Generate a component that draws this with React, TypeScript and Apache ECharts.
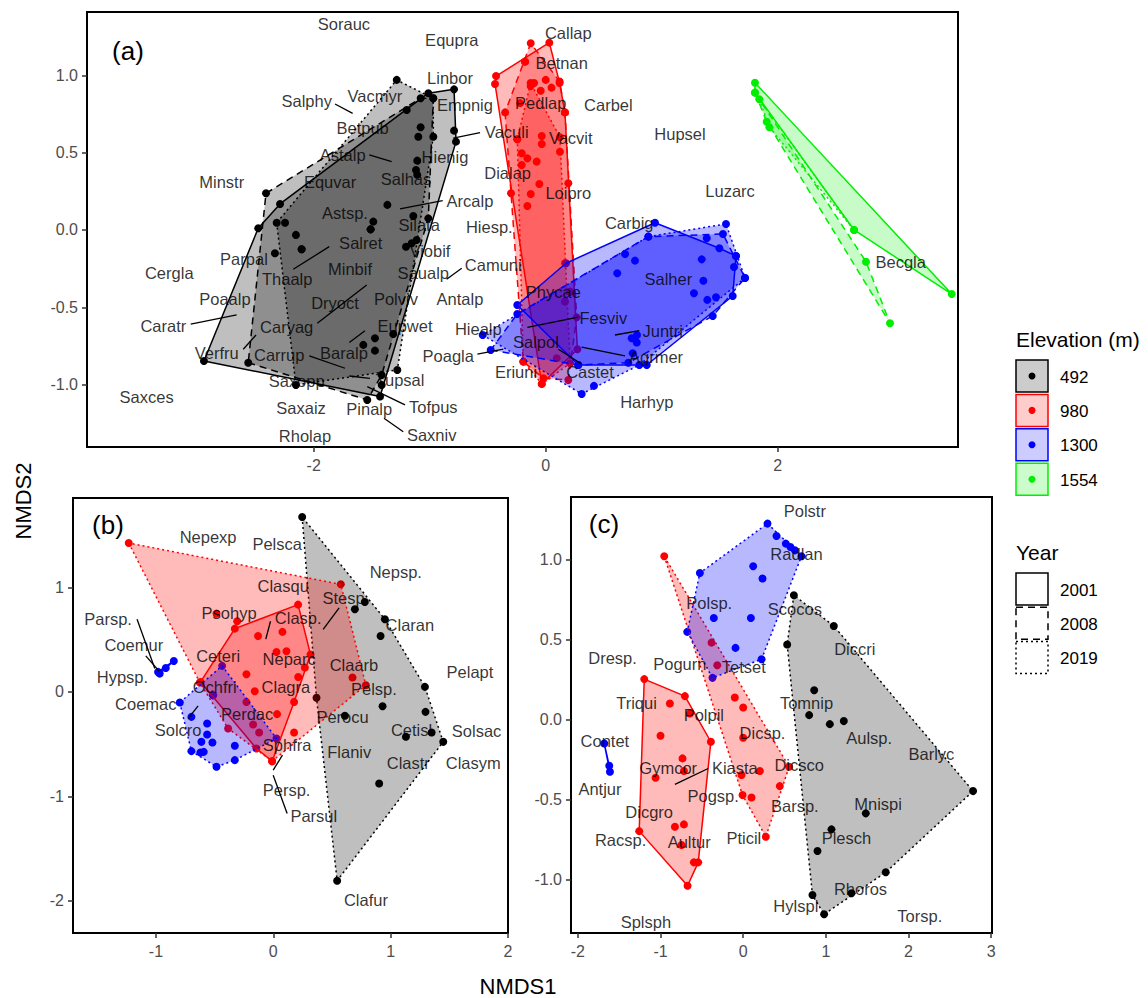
import React, { useEffect, useRef } from "react";
import * as echarts from "echarts";

const FONT = '"Liberation Sans", Arial, Helvetica, sans-serif';

// ---------- Panel (a) points: [NMDS1, NMDS2] ----------
const a492_2001 = [[-2.946,-0.847],[-2.478,0.011],[-2.29,0.168],[-1.012,0.884],[-0.79,0.909],[-0.79,0.642],[-0.773,0.571],[-1.428,-1.077],[-1.365,0.162],[-1.107,0.448],[-1.141,0.09],[-1.472,-0.7],[-1.414,-1.002],[-2.104,-0.125],[-1.572,-0.743]];
const a492_2008 = [[-2.411,0.237],[-1.198,0.776],[-1.078,0.851],[-0.969,0.851],[-1.012,0.075],[-1.314,-0.672],[-1.414,-0.937],[-1.538,-1.099],[-2.564,-0.858],[-2.247,0.047],[-2.153,-0.032],[-1.509,0.004],[-1.155,-0.086],[-1.118,0.388],[-2.334,-0.151]];
const a492_2019 = [[-1.284,0.97],[-0.969,0.851],[-0.969,0.603],[-1.279,-0.905],[-2.153,-1.002],[-2.319,0.047],[-1.486,0.054],[-1.204,-0.108],[-1.472,-0.78],[-1.107,0.356],[-1.098,0.603],[-1.078,0.664],[-1.112,-0.065],[-2.104,-0.125],[-1.509,0.004]];
const a980_2001 = [[-0.428,0.995],[-0.178,1.088],[0.031,1.211],[0.12,0.95],[0.166,0.76],[0.195,0.302],[0.273,-0.771],[-0.034,-0.995],[-0.437,0.944],[-0.13,0.93],[-0.043,0.9],[-0.22,0.82],[-0.034,0.607],[-0.207,0.496],[-0.078,0.442],[-0.055,0.297],[0.095,-0.829],[0.21,-0.399]];
const a980_2008 = [[-0.129,1.207],[-0.178,1.088],[0.12,0.96],[0.166,0.76],[0.21,-0.399],[0.267,-0.565],[0.195,-0.97],[-0.02,-0.959],[-0.193,-0.851],[-0.35,0.76],[-0.299,0.237],[-0.1,0.95],[0.0,0.97],[0.05,0.92],[-0.245,0.586],[-0.158,0.463],[-0.129,0.233],[0.123,0.506]];
const a980_2019 = [[-0.13,0.95],[0.123,0.599],[0.166,-0.215],[0.21,-0.862],[-0.034,-0.995],[-0.193,-0.851],[-0.245,0.586],[-0.207,0.42],[-0.158,0.155],[-0.034,0.556],[0.166,-0.463]];
const a1300_2001 = [[-0.245,-0.485],[0.175,-0.215],[0.942,0.047],[1.497,-0.118],[1.64,-0.168],[1.612,-0.427],[0.871,-0.873],[0.281,-0.873],[1.345,-0.19],[0.684,-0.155],[0.741,-0.7],[1.623,-0.239]];
const a1300_2008 = [[-0.474,-0.776],[-0.245,-0.543],[0.885,-0.043],[1.528,-0.026],[1.718,-0.31],[1.44,-0.556],[0.712,-0.858],[0.281,-0.873],[1.388,-0.054],[1.359,-0.328],[0.617,-0.28],[0.77,-0.198]];
const a1300_2019 = [[-0.543,-0.679],[0.885,-0.043],[1.554,0.039],[1.64,-0.168],[1.718,-0.31],[1.393,-0.452],[0.31,-1.06],[0.416,-1.008],[1.278,-0.409],[1.468,-0.435],[0.787,-0.679],[0.785,-0.728],[0.75,-0.797],[0.807,-0.873]];
const a1554_2001 = [[1.804,0.952],[3.5,-0.414],[2.658,0.0],[1.804,0.888]];
const a1554_2008 = [[1.804,0.888],[2.761,-0.205],[2.968,-0.603],[1.905,0.7]];
const a1554_2019 = [[1.841,0.845],[1.928,0.664],[2.658,0.0]];

// ---------- Panel (b) ----------
const b492_2019 = [[0.246,1.673],[0.78,0.86],[0.695,0.79],[0.951,0.695],[0.914,0.535],[1.292,0.048],[0.931,-0.137],[1.297,-0.191],[1.349,-0.389],[1.13,-0.43],[1.448,-0.478],[0.902,-0.876],[0.544,-1.807],[0.368,-0.057],[0.61,-0.229]];
const b980_2001 = [[-0.62,0.095],[-0.328,0.605],[0.211,0.835],[0.317,0.357],[0.177,-0.096],[-0.01,-0.663],[-0.144,-0.542],[0.078,0.574],[0.112,0.389],[0.269,0.233],[0.212,0.143],[-0.229,0.169],[-0.158,0.006],[0.032,-0.213],[-0.229,-0.096],[-0.172,-0.312],[-0.121,-0.389]];
const b980_2019 = [[-1.232,1.424],[0.575,1.029],[0.789,0.064],[0.177,-0.389],[-0.01,-0.663],[-0.626,0.089],[0.675,0.137],[0.027,0.382],[-0.13,0.535],[-0.308,0.676],[-0.484,0.749],[-0.385,-0.351],[-0.513,-0.032]];
const b1300_2001 = [[-0.982,0.191],[-0.968,0.175],[-0.916,0.229],[-0.848,0.296]];
const b1300_2019 = [[-0.436,0.249],[0.027,-0.446],[-0.328,-0.653],[-0.484,-0.717],[-0.698,-0.567],[-0.797,-0.102],[-0.698,-0.239],[-0.564,-0.303],[-0.564,-0.408],[-0.613,-0.478],[-0.519,-0.484],[-0.593,-0.574],[-0.621,-0.58],[-0.328,-0.516],[-0.513,-0.032]];

// ---------- Panel (c) ----------
const c492_2019 = [[0.613,0.776],[1.096,0.584],[0.532,0.468],[0.859,0.183],[0.798,0.027],[1.048,-0.029],[1.217,-0.01],[2.781,-0.447],[1.483,-0.586],[1.068,-0.686],[0.899,-0.821],[1.725,-0.954],[1.31,-1.085],[0.838,-1.096],[0.979,-1.216]];
const c980_2001 = [[-1.197,0.252],[-0.705,0.146],[-0.887,0.1],[-0.645,0.037],[-0.391,-0.139],[-1.0,-0.102],[-0.734,-0.243],[-0.717,-0.322],[-1.06,-0.364],[-1.258,-0.697],[-0.826,-0.67],[-0.717,-0.655],[-0.746,-0.784],[-0.597,-0.892],[-0.544,-0.892],[-0.673,-1.038]];
const c980_2019 = [[-0.955,1.019],[-0.383,0.48],[-0.314,0.339],[-0.101,0.137],[0.0,0.075],[0.0,-0.114],[0.202,-0.322],[-0.02,-0.347],[0.556,-0.295],[0.443,-0.416],[-0.008,-0.472],[0.101,-0.487],[0.274,-0.732]];
const c1300_2001 = [[-1.681,-0.15],[-1.62,-0.289],[-1.612,-0.326]];
const c1300_2019 = [[0.294,1.223],[0.403,1.146],[0.516,1.098],[0.572,1.077],[0.625,1.056],[0.705,1.019],[-0.524,0.915],[0.121,0.957],[0.234,0.88],[-0.355,0.634],[0.093,0.634],[-0.677,0.547],[-0.093,0.447],[0.222,0.376],[-0.371,0.26]];

// ---------- Species labels [name, x, y] ----------
const labelsA = [["Sorauc",-1.739,1.332],["Equpra",-0.81,1.228],["Linbor",-0.825,0.98],["Salphy",-2.06,0.836],["Vacmyr",-1.472,0.866],["Empnig",-0.696,0.808],["Betpub",-1.578,0.657],["Vaculi",-0.336,0.635],["Astalp",-1.75,0.485],["Hienig",-0.868,0.474],["Minstr",-2.793,0.312],["Equvar",-1.859,0.308],["Salhas",-1.204,0.328],["Arcalp",-0.653,0.189],["Dialap",-0.328,0.366],["Astsp.",-1.73,0.108],["Silata",-1.09,0.032],["Hiesp.",-0.486,0.018],["Salret",-1.595,-0.082],["Viobif",-0.998,-0.134],["Parpal",-2.601,-0.189],["Cergla",-3.245,-0.28],["Thaalp",-2.228,-0.319],["Minbif",-1.687,-0.254],["Saualp",-1.055,-0.276],["Camuni",-0.452,-0.226],["Poaalp",-2.765,-0.448],["Dryoct",-1.816,-0.47],["Polviv",-1.291,-0.448],["Antalp",-0.739,-0.448],["Caratr",-3.296,-0.621],["Caryag",-2.233,-0.625],["Eupwet",-1.213,-0.621],["Hiealp",-0.581,-0.642],["Verfru",-2.836,-0.793],["Carrup",-2.297,-0.808],["Baralp",-1.739,-0.797],["Poagla",-0.84,-0.815],["Saxopp",-2.147,-0.974],["Tupsal",-1.256,-0.97],["Eriuni",-0.256,-0.916],["Saxces",-3.44,-1.077],["Saxaiz",-2.109,-1.153],["Pinalp",-1.521,-1.157],["Tofpus",-0.969,-1.142],["Rholap",-2.075,-1.332],["Saxniv",-0.983,-1.325],["Callap",0.195,1.275],["Betnan",0.138,1.082],["Pedlap",-0.043,0.823],["Carbel",0.54,0.808],["Vacvit",0.216,0.593],["Hupsel",1.158,0.621],["Loipro",0.195,0.241],["Luzarc",1.589,0.254],["Carbig",0.72,0.047],["Salher",1.057,-0.319],["Becgla",3.06,-0.209],["Phycae",0.066,-0.399],["Fesviv",0.497,-0.571],["Juntri",1.008,-0.651],["Salpol",-0.084,-0.722],["Agrmer",0.951,-0.823],["Castet",0.382,-0.92],["Harhyp",0.871,-1.114]];
const labelsB = [["Nepexp",-0.556,1.482],["Pelsca",0.033,1.418],["Nepsp.",1.044,1.147],["Clasqu",0.084,1.013],["Stesp.",0.618,0.899],["Parsp.",-1.408,0.701],["Psohyp",-0.377,0.758],["Clasp.",0.212,0.707],["Claran",1.164,0.637],["Coemur",-1.189,0.446],["Ceteri",-0.47,0.344],["Neparc",0.135,0.319],["Claarb",0.687,0.255],["Pelapt",1.676,0.191],["Hypsp.",-1.286,0.143],["Ochfri",-0.499,0.048],["Clagra",0.107,0.048],["Pelsp.",0.857,0.032],["Coemac",-1.087,-0.112],["Perdac",-0.223,-0.207],["Perocu",0.59,-0.239],["Solcro",-0.811,-0.366],["Cetisl",1.178,-0.366],["Solsac",1.732,-0.376],["Sphfra",0.118,-0.51],["Flaniv",0.647,-0.58],["Clastr",1.15,-0.676],["Clasym",1.704,-0.676],["Persp.",0.113,-0.94],["Parsul",0.345,-1.185],["Clafur",0.789,-1.992]];
const labelsC = [["Polstr",0.746,1.3],["Radlan",0.645,1.036],["Polsp.",-0.411,0.73],["Scocos",0.625,0.688],["Diccri",1.35,0.439],["Dresp.",-1.58,0.385],["Pogurn",-0.766,0.349],["Tetset",0.008,0.329],["Tomnip",0.766,0.106],["Triqui",-1.29,0.1],["Polpil",-0.476,0.031],["Aulsp.",1.524,-0.114],["Contet",-1.673,-0.135],["Dicsp.",0.234,-0.087],["Barlyc",2.277,-0.218],["Dicsco",0.677,-0.285],["Gymcor",-0.907,-0.302],["Kiasta",-0.101,-0.306],["Antjur",-1.733,-0.435],["Pogsp.",-0.363,-0.476],["Mnispi",1.632,-0.53],["Barsp.",0.625,-0.539],["Dicgro",-1.137,-0.576],["Plesch",1.249,-0.742],["Racsp.",-1.483,-0.753],["Aultur",-0.653,-0.767],["Pticil",0.008,-0.742],["Rhoros",1.419,-1.058],["Hylspl",0.637,-1.162],["Torsp.",2.136,-1.225],["Splsph",-1.177,-1.262]];

// ---------- Leader segments [x1, y1, x2, y2] ----------
const leadersA = [[-1.816,0.814,-1.664,0.754],[-1.521,0.485,-1.328,0.442],[-0.797,0.593,-0.566,0.629],[-1.256,0.136,-0.888,0.189],[-2.176,-0.254,-1.866,-0.108],[-0.854,-0.319,-0.724,-0.248],[-1.969,-0.603,-1.543,-0.356],[-3.06,-0.608,-2.664,-0.549],[-1.693,-0.728,-1.558,-0.651],[-2.607,-0.771,-2.497,-0.679],[-2.038,-0.814,-1.73,-0.894],[-1.693,-0.944,-1.515,-0.959],[-0.589,-0.802,-0.365,-0.771],[-1.538,-1.013,-1.213,-1.131],[-1.394,-1.217,-1.228,-1.304],[-0.158,-0.629,0.281,-0.564],[0.597,-0.679,0.807,-0.651],[0.31,-0.758,0.684,-0.814],[0.109,-0.771,0.31,-0.866]];
const leadersB = [[-1.161,0.695,-1.01,0.223],[-1.087,0.344,-0.973,0.198],[-0.064,0.504,-0.024,0.676],[0.425,0.599,0.561,0.803],[-0.726,-0.255,-0.641,-0.134],[-0.001,-0.749,0.078,-0.605],[-0.001,-0.797,0.118,-1.163]];
const leadersC = [[-0.826,-0.405,-0.423,-0.306]];

// ---------- Legend / axis ticks ----------
const elevations = ["492", "980", "1300", "1554"];
const years = ["2001", "2008", "2019"];
const ticksAx = [-2, 0, 2];
const ticksAy = [-1, -0.5, 0, 0.5, 1];
const ticksBx = [-1, 0, 1, 2];
const ticksBy = [-2, -1, 0, 1];
const ticksCx = [-2, -1, 0, 1, 2, 3];
const ticksCy = [-1, -0.5, 0, 0.5, 1];

const elevColor: Record<string, string> = { "492": "#000000", "980": "#ff0000", "1300": "#0000ff", "1554": "#00ee00" };
const elevFill: Record<string, string> = { "492": "rgba(0,0,0,0.25)", "980": "rgba(255,0,0,0.27)", "1300": "rgba(0,0,255,0.28)", "1554": "rgba(0,238,0,0.22)" };
const legendFill: Record<string, string> = { "492": "rgba(0,0,0,0.2)", "980": "rgba(255,0,0,0.2)", "1300": "rgba(0,0,255,0.2)", "1554": "rgba(0,238,0,0.2)" };
const yearDash: Record<string, any> = { "2001": null, "2008": [7, 5], "2019": [2, 3] };

const panels = [
  { groups: [["492","2001",a492_2001],["492","2008",a492_2008],["492","2019",a492_2019],["980","2001",a980_2001],["980","2008",a980_2008],["980","2019",a980_2019],["1300","2001",a1300_2001],["1300","2008",a1300_2008],["1300","2019",a1300_2019],["1554","2001",a1554_2001],["1554","2008",a1554_2008],["1554","2019",a1554_2019]], labels: labelsA, leaders: leadersA },
  { groups: [["492","2019",b492_2019],["980","2001",b980_2001],["980","2019",b980_2019],["1300","2001",b1300_2001],["1300","2019",b1300_2019]], labels: labelsB, leaders: leadersB },
  { groups: [["492","2019",c492_2019],["980","2001",c980_2001],["980","2019",c980_2019],["1300","2001",c1300_2001],["1300","2019",c1300_2019]], labels: labelsC, leaders: leadersC },
];

function convexHull(pts: number[][]) {
  const p = pts.slice().sort((a, b) => a[0] - b[0] || a[1] - b[1]);
  if (p.length < 3) return p;
  const cross = (o: number[], a: number[], b: number[]) => (a[0] - o[0]) * (b[1] - o[1]) - (a[1] - o[1]) * (b[0] - o[0]);
  const lower: number[][] = [];
  for (const q of p) { while (lower.length >= 2 && cross(lower[lower.length - 2], lower[lower.length - 1], q) <= 0) lower.pop(); lower.push(q); }
  const upper: number[][] = [];
  for (let i = p.length - 1; i >= 0; i--) { const q = p[i]; while (upper.length >= 2 && cross(upper[upper.length - 2], upper[upper.length - 1], q) <= 0) upper.pop(); upper.push(q); }
  upper.pop(); lower.pop();
  return lower.concat(upper);
}

function buildOption() {
  const axisText = { fontSize: 16, color: "#4d4d4d", fontFamily: FONT };
  const tick = { show: true, length: 5, lineStyle: { color: "#333", width: 1.5 } };
  const mkX = (gi: number, min: number, max: number, vals: number[]) => ({
    type: "value", gridIndex: gi, min, max, position: "bottom", splitLine: { show: false }, axisLine: { show: false, onZero: false },
    axisTick: { ...tick, customValues: vals }, axisLabel: { ...axisText, margin: 10, customValues: vals, formatter: (v: number) => String(v) },
  });
  const mkY = (gi: number, min: number, max: number, vals: number[], dec: number) => ({
    type: "value", gridIndex: gi, min, max, position: "left", splitLine: { show: false }, axisLine: { show: false, onZero: false },
    axisTick: { ...tick, customValues: vals }, axisLabel: { ...axisText, margin: 9, customValues: vals, formatter: (v: number) => v.toFixed(dec) },
  });

  const series: any[] = [];
  panels.forEach((panel, pi) => {
    // points (beneath hulls)
    panel.groups.forEach((g: any) => {
      series.push({ type: "scatter", xAxisIndex: pi, yAxisIndex: pi, data: g[2], symbolSize: 8, silent: true, z: 2,
        itemStyle: { color: elevColor[g[0]], opacity: 1 } });
    });
    // hull polygons
    panel.groups.forEach((g: any) => {
      const h = convexHull(g[2]);
      series.push({ type: "custom", xAxisIndex: pi, yAxisIndex: pi, data: [h[0]], silent: true, z: 3, clip: false,
        renderItem: (params: any, api: any) => {
          if (params.dataIndex !== 0) return null;
          const pts = h.map((p) => api.coord(p));
          return { type: "polygon", shape: { points: pts },
            style: { fill: elevFill[g[0]], stroke: elevColor[g[0]], lineWidth: 1.5, lineDash: yearDash[g[1]], lineJoin: "round" } };
        } });
    });
    // leader lines
    series.push({ type: "custom", xAxisIndex: pi, yAxisIndex: pi, data: panel.leaders, silent: true, z: 4,
      encode: { x: [0, 2], y: [1, 3] },
      renderItem: (params: any, api: any) => {
        const a = api.coord([api.value(0), api.value(1)]);
        const b = api.coord([api.value(2), api.value(3)]);
        return { type: "line", shape: { x1: a[0], y1: a[1], x2: b[0], y2: b[1] }, style: { stroke: "#000", lineWidth: 1.3 } };
      } });
    // species labels
    series.push({ type: "scatter", xAxisIndex: pi, yAxisIndex: pi, silent: true, z: 5,
      data: panel.labels.map((l: any) => [l[1], l[2], l[0]]), symbolSize: 1, itemStyle: { color: "rgba(0,0,0,0)" },
      label: { show: true, position: "inside", formatter: (p: any) => p.value[2], color: "#000", fontSize: 16.5, fontFamily: FONT } });
  });

  const graphic: any[] = [];
  const panelTag = (t: string, x: number, y: number) => ({ type: "text", x, y, style: { text: t, fontSize: 26, fontFamily: FONT, fill: "#000", align: "center", verticalAlign: "middle" } });
  graphic.push(panelTag("(a)", 128, 51));
  graphic.push(panelTag("(b)", 108, 525));
  graphic.push(panelTag("(c)", 604, 524));
  graphic.push({ type: "text", x: 518, y: 986, style: { text: "NMDS1", fontSize: 22, fontFamily: FONT, fill: "#000", align: "center", verticalAlign: "middle" } });
  graphic.push({ type: "text", x: 23, y: 501, rotation: Math.PI / 2, style: { text: "NMDS2", fontSize: 22, fontFamily: FONT, fill: "#000", align: "center", verticalAlign: "middle" } });
  // Elevation legend
  graphic.push({ type: "text", x: 1016, y: 339, style: { text: "Elevation (m)", fontSize: 21, fontFamily: FONT, fill: "#000", verticalAlign: "middle" } });
  elevations.forEach((e, i) => {
    const y0 = 360 + i * 34.4;
    graphic.push({ type: "rect", shape: { x: 1016, y: y0, width: 32, height: 32 }, style: { fill: legendFill[e], stroke: elevColor[e], lineWidth: 1.5 } });
    graphic.push({ type: "circle", shape: { cx: 1032, cy: y0 + 16, r: 3.5 }, style: { fill: elevColor[e] } });
    graphic.push({ type: "text", x: 1060, y: y0 + 17, style: { text: e, fontSize: 17, fontFamily: FONT, fill: "#000", verticalAlign: "middle" } });
  });
  graphic.push({ type: "text", x: 1016, y: 552, style: { text: "Year", fontSize: 21, fontFamily: FONT, fill: "#000", verticalAlign: "middle" } });
  years.forEach((yr, i) => {
    const y0 = 573 + i * 34.2;
    graphic.push({ type: "rect", shape: { x: 1016, y: y0, width: 32, height: 32 }, style: { fill: "#fff", stroke: "#000", lineWidth: 1.5, lineDash: yearDash[yr] } });
    graphic.push({ type: "text", x: 1060, y: y0 + 17, style: { text: yr, fontSize: 17, fontFamily: FONT, fill: "#000", verticalAlign: "middle" } });
  });

  return {
    animation: false,
    backgroundColor: "#ffffff",
    grid: [
      { left: 87, top: 12, width: 871, height: 435, show: true, borderColor: "#000", borderWidth: 2, backgroundColor: "transparent", outerBoundsMode: "none" },
      { left: 73, top: 498, width: 435, height: 435, show: true, borderColor: "#000", borderWidth: 2, backgroundColor: "transparent", outerBoundsMode: "none" },
      { left: 571, top: 497, width: 421, height: 436, show: true, borderColor: "#000", borderWidth: 2, backgroundColor: "transparent", outerBoundsMode: "none" },
    ],
    xAxis: [mkX(0, -3.954, 3.554, ticksAx), mkX(1, -1.707, 2.0, ticksBx), mkX(2, -2.083, 3.01, ticksCx)],
    yAxis: [mkY(0, -1.403, 1.409, ticksAy, 1), mkY(1, -2.307, 1.855, ticksBy, 0), mkY(2, -1.333, 1.389, ticksCy, 1)],
    series,
    graphic,
  };
}

export default function App() {
  const ref = useRef<HTMLDivElement>(null);
  useEffect(() => {
    if (!ref.current) return;
    const chart = echarts.init(ref.current, null, { renderer: "svg" });
    chart.setOption(buildOption() as any);
    return () => chart.dispose();
  }, []);
  return <div ref={ref} style={{ position: "fixed", left: 0, top: 0, width: 1148, height: 998, background: "#fff" }} />;
}
